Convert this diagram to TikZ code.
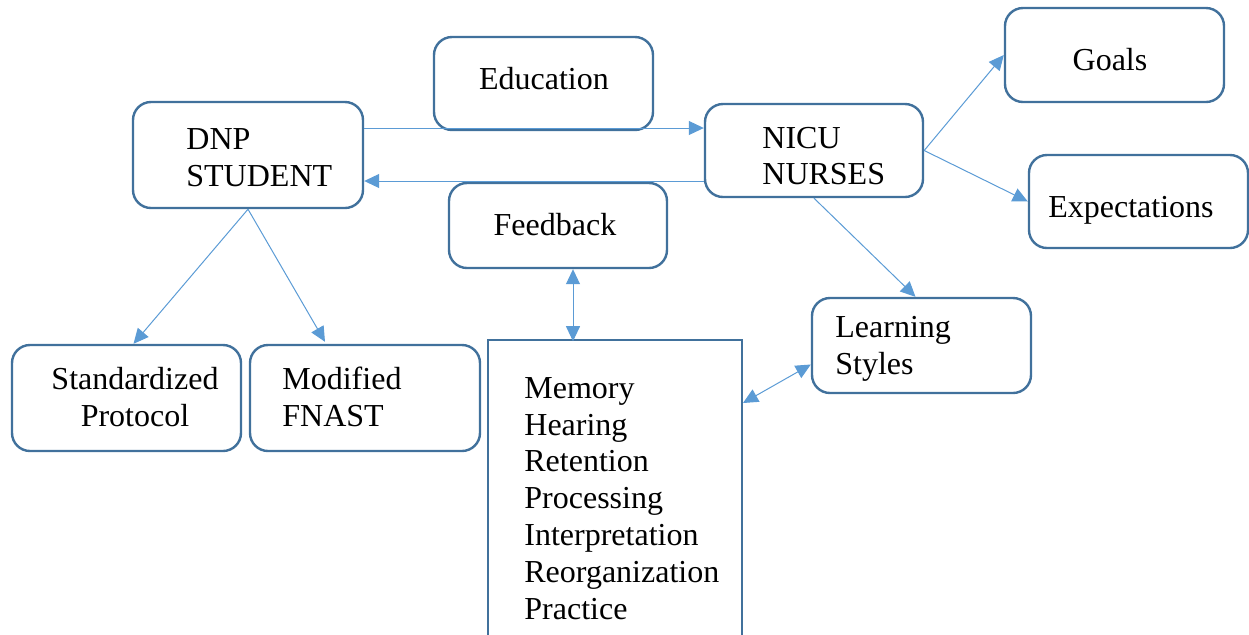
\documentclass[tikz,border=0pt]{standalone}
\usepackage{fontspec}
\setmainfont{Liberation Serif}
\usetikzlibrary{arrows.meta,calc}
\definecolor{boxc}{HTML}{41719C}
\definecolor{arrc}{HTML}{5B9BD5}
\begin{document}
\begin{tikzpicture}[x=0.5pt,y=-0.5pt,
  box/.style={draw=boxc,line width=1.2pt,rounded corners=9pt,fill=white,inner sep=0pt},
  txt/.style={inner sep=0pt,font=\fontsize{16}{18.4}\selectfont,align=left},
  arr/.style={draw=arrc,line width=0.5pt,-{Triangle[length=7.5pt,width=7pt]}},
  darr/.style={draw=arrc,line width=0.5pt,{Triangle[length=7.5pt,width=7pt]}-{Triangle[length=7.5pt,width=7pt]}}]
\useasboundingbox (0,0) rectangle (1249,634);
% boxes
\node[box,minimum width=115pt,minimum height=53pt] (dnp) at (248,155) {};
\node[box,minimum width=109.5pt,minimum height=46.5pt] (edu) at (543.5,83.5) {};
\node[box,minimum width=109pt,minimum height=46.5pt] (nicu) at (814,150.5) {};
\node[box,minimum width=109.5pt,minimum height=47pt] (goals) at (1114.5,55) {};
\node[box,minimum width=109.5pt,minimum height=46.5pt] (exp) at (1138.5,201.5) {};
\node[box,minimum width=109pt,minimum height=42.5pt] (fb) at (558,225.5) {};
\node[box,minimum width=109.5pt,minimum height=47.5pt] (ls) at (921.5,345.5) {};
\node[box,minimum width=114.5pt,minimum height=53pt] (std) at (126.5,398) {};
\node[box,minimum width=115pt,minimum height=53pt] (mod) at (365,398) {};
\node[inner sep=0pt,minimum width=127pt,minimum height=160pt] (mem) at (615,500) {};
\draw[boxc,line width=1.2pt] (488,660) -- (488,340) -- (742,340) -- (742,660);
% texts
\node[txt,anchor=west] (tdnp) at (186,158) {DNP\\STUDENT};
\node[txt] (tedu) at (544,79) {Education};
\node[txt,anchor=west] (tnicu) at (762,156) {NICU\\NURSES};
\node[txt] (tgoals) at (1110,60) {Goals};
\node[txt] (texp) at (1131,210) {Expectations};
\node[txt] (tfb) at (555,225) {Feedback};
\node[txt,anchor=west] (tls) at (835,349) {Learning\\Styles};
\node[txt,align=center] (tstd) at (135,397) {Standardized\\Protocol};
\node[txt,anchor=west] (tmod) at (282,397) {Modified\\FNAST};
\node[txt,anchor=north west] (tmem) at (524,377) {Memory\\Hearing\\Retention\\Processing\\Interpretation\\Reorganization\\Practice};
% connectors
\coordinate (ya) at (0,128);
\coordinate (yb) at (0,181);
\draw[arr] (dnp.east |- ya) -- (nicu.west |- ya);
\draw[arr] (nicu.west |- yb) -- (dnp.east |- yb);
\draw[arr] (dnp.south) -- ($(std.north)+(7,0)$);
\draw[arr] (dnp.south) -- ($(mod.north)+(-40,-2)$);
\draw[arr] (nicu.south) -- ($(ls.north)+(-6,0)$);
\draw[arr] (nicu.east) -- (goals.west);
\draw[arr] (nicu.east) -- (exp.west);
\draw[darr] ($(fb.south)+(15,0)$) -- ($(fb.south)+(15,72)$);
\draw[darr] (743,403) -- ($(ls.west)+(0,19)$);
\end{tikzpicture}
\end{document}
